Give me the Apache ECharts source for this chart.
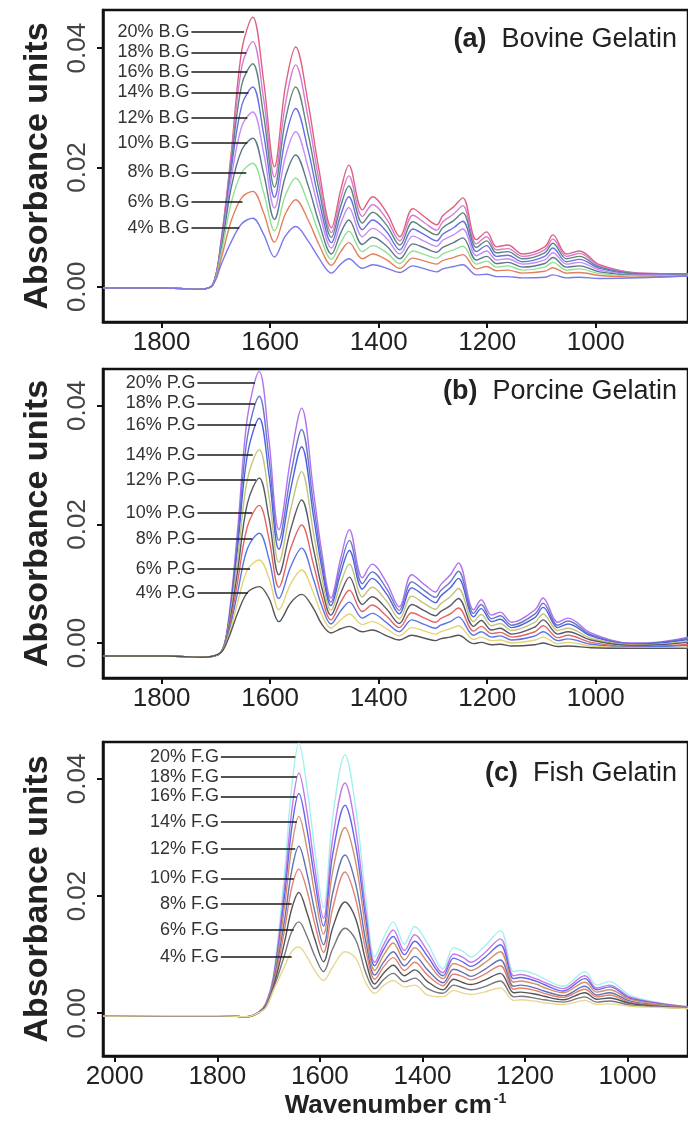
<!DOCTYPE html>
<html>
<head>
<meta charset="utf-8">
<script src="https://cdn.jsdelivr.net/npm/echarts@6/dist/echarts.min.js"></script>
<style>
html, body { margin: 0; padding: 0; background: #fff; }
#chart { width: 688px; height: 1127px; }
</style>
</head>
<body>
<div id="chart"></div>
<script>
const FONT = "'Liberation Sans', Arial, sans-serif";

// sample concentrations, top curve first
const concentrations = ['20%', '18%', '16%', '14%', '12%', '10%', '8%', '6%', '4%'];

// (a) Bovine gelatin: wavenumbers and absorbance rows (20% ... 4%) at each wavenumber
const bovineWn = [1908, 1790, 1730, 1706, 1690, 1672, 1652, 1632, 1612, 1592, 1572, 1553, 1530, 1510, 1487, 1470, 1455, 1430, 1411, 1385,
  1361, 1337, 1315, 1293, 1282, 1262, 1245, 1220, 1201, 1183, 1162, 1135, 1094, 1079, 1054, 1030, 993, 919, 830];
const bovineRows = [
  [-.0002, -.0002, -.0002, -.0002, -.0002, -.0002, -.0002, -.0002, -.0002],
  [-.0002, -.0002, -.0002, -.0002, -.0002, -.0002, -.0002, -.0002, -.0002],
  [-.0004, -.0004, -.0004, -.0004, -.0004, -.0004, -.0004, -.0004, -.0004],
  [.0003, .0003, .0003, .0003, .0003, .0003, .0003, .0003, .0003],
  [.0080, .0078, .0075, .0072, .0068, .0063, .0057, .0048, .0038],
  [.0222, .0215, .0205, .0195, .0180, .0165, .0140, .0110, .0075],
  [.0398, .0370, .0340, .0305, .0270, .0230, .0192, .0150, .0106],
  [.0452, .0411, .0374, .0335, .0293, .0249, .0207, .0160, .0115],
  [.0345, .0315, .0287, .0256, .0225, .0190, .0158, .0124, .0088],
  [.0201, .0184, .0167, .0150, .0132, .0113, .0094, .0075, .0050],
  [.0335, .0306, .0279, .0249, .0218, .0185, .0153, .0122, .0085],
  [.0402, .0372, .0335, .0299, .0260, .0221, .0182, .0146, .0101],
  [.0308, .0283, .0256, .0229, .0200, .0170, .0140, .0112, .0077],
  [.0196, .0179, .0163, .0145, .0128, .0108, .0090, .0071, .0048],
  [.0099, .0091, .0083, .0074, .0065, .0055, .0046, .0036, .0023],
  [.0162, .0148, .0135, .0120, .0106, .0090, .0074, .0059, .0038],
  [.0204, .0186, .0169, .0151, .0133, .0112, .0093, .0074, .0047],
  [.0129, .0118, .0107, .0096, .0084, .0071, .0059, .0047, .0031],
  [.0151, .0138, .0125, .0112, .0098, .0083, .0069, .0055, .0037],
  [.0124, .0113, .0103, .0092, .0081, .0068, .0057, .0045, .0031],
  [.0084, .0077, .0070, .0062, .0055, .0047, .0039, .0031, .0024],
  [.0131, .0120, .0109, .0097, .0085, .0072, .0060, .0048, .0035],
  [.0117, .0107, .0097, .0087, .0076, .0065, .0054, .0043, .0030],
  [.0104, .0095, .0087, .0077, .0068, .0058, .0048, .0038, .0025],
  [.0119, .0109, .0099, .0088, .0078, .0066, .0055, .0044, .0030],
  [.0134, .0122, .0111, .0099, .0087, .0074, .0062, .0049, .0034],
  [.0149, .0136, .0124, .0110, .0097, .0082, .0068, .0054, .0037],
  [.0079, .0072, .0066, .0059, .0052, .0045, .0038, .0030, .0020],
  [.0092, .0084, .0077, .0069, .0060, .0051, .0043, .0034, .0021],
  [.0067, .0062, .0057, .0051, .0045, .0039, .0033, .0027, .0017],
  [.0070, .0064, .0059, .0053, .0047, .0041, .0035, .0028, .0017],
  [.0055, .0051, .0047, .0042, .0038, .0033, .0028, .0023, .0015],
  [.0067, .0062, .0057, .0051, .0045, .0039, .0033, .0026, .0016],
  [.0087, .0080, .0073, .0065, .0057, .0049, .0041, .0032, .0020],
  [.0055, .0051, .0047, .0042, .0038, .0033, .0028, .0023, .0015],
  [.0060, .0056, .0051, .0046, .0041, .0035, .0030, .0024, .0016],
  [.0037, .0035, .0033, .0031, .0028, .0025, .0022, .0019, .0014],
  [.0023, .0023, .0022, .0021, .0020, .0019, .0018, .0016, .0015],
  [.0022, .0022, .0021, .0021, .0020, .0020, .0019, .0018, .0018]
];

// (b) Porcine gelatin
const porcineWn = [1908, 1790, 1725, 1692, 1678, 1660, 1642, 1620, 1602, 1584, 1562, 1542, 1520, 1505, 1488, 1470, 1454, 1430, 1412, 1385,
  1362, 1339, 1315, 1295, 1286, 1268, 1253, 1225, 1211, 1192, 1176, 1155, 1112, 1097, 1070, 1051, 1009, 936, 881, 830];
const porcineRows = [
  [-.0022, -.0022, -.0022, -.0022, -.0022, -.0022, -.0022, -.0022, -.0022],
  [-.0022, -.0022, -.0022, -.0022, -.0022, -.0022, -.0022, -.0022, -.0022],
  [-.0024, -.0024, -.0024, -.0024, -.0024, -.0024, -.0024, -.0024, -.0024],
  [-.0017, -.0017, -.0017, -.0017, -.0017, -.0017, -.0017, -.0017, -.0017],
  [.0030, .0027, .0025, .0021, .0018, .0014, .0011, .0008, .0005],
  [.0190, .0174, .0160, .0141, .0121, .0103, .0085, .0068, .0050],
  [.0380, .0347, .0317, .0276, .0235, .0196, .0159, .0123, .0085],
  [.0458, .0416, .0379, .0326, .0278, .0232, .0185, .0140, .0095],
  [.0340, .0310, .0283, .0246, .0210, .0175, .0141, .0109, .0075],
  [.0191, .0173, .0158, .0136, .0115, .0094, .0075, .0056, .0036],
  [.0312, .0284, .0260, .0226, .0192, .0160, .0129, .0100, .0068],
  [.0396, .0360, .0331, .0289, .0241, .0199, .0160, .0123, .0082],
  [.0255, .0233, .0213, .0185, .0158, .0132, .0107, .0084, .0058],
  [.0154, .0140, .0128, .0111, .0094, .0078, .0063, .0048, .0032],
  [.0076, .0069, .0063, .0055, .0047, .0039, .0032, .0025, .0017],
  [.0143, .0130, .0118, .0101, .0084, .0069, .0054, .0039, .0024],
  [.0191, .0173, .0156, .0133, .0111, .0089, .0069, .0049, .0028],
  [.0110, .0100, .0091, .0078, .0065, .0053, .0042, .0031, .0019],
  [.0133, .0120, .0109, .0094, .0078, .0064, .0050, .0036, .0022],
  [.0101, .0091, .0082, .0070, .0057, .0045, .0034, .0024, .0012],
  [.0061, .0055, .0049, .0041, .0033, .0026, .0019, .0012, .0005],
  [.0115, .0103, .0093, .0079, .0065, .0051, .0039, .0026, .0013],
  [.0098, .0088, .0079, .0066, .0054, .0042, .0031, .0020, .0008],
  [.0086, .0077, .0068, .0057, .0046, .0035, .0025, .0015, .0004],
  [.0098, .0088, .0079, .0066, .0053, .0041, .0030, .0019, .0007],
  [.0115, .0103, .0093, .0078, .0063, .0049, .0036, .0024, .0010],
  [.0135, .0121, .0109, .0092, .0075, .0059, .0044, .0029, .0013],
  [.0056, .0050, .0044, .0036, .0028, .0020, .0013, .0006, -.0001],
  [.0073, .0065, .0058, .0048, .0038, .0028, .0019, .0010, .0001],
  [.0047, .0041, .0036, .0029, .0022, .0016, .0010, .0004, -.0003],
  [.0052, .0046, .0040, .0033, .0025, .0018, .0012, .0005, -.0002],
  [.0035, .0030, .0026, .0021, .0015, .0010, .0005, .0000, -.0005],
  [.0056, .0049, .0043, .0035, .0027, .0019, .0012, .0005, -.0003],
  [.0076, .0067, .0060, .0049, .0039, .0029, .0019, .0010, .0000],
  [.0035, .0030, .0026, .0021, .0015, .0009, .0004, -.0001, -.0006],
  [.0042, .0037, .0032, .0025, .0019, .0013, .0007, .0001, -.0005],
  [.0017, .0014, .0012, .0008, .0005, .0001, -.0002, -.0005, -.0008],
  [.0000, -.0001, -.0002, -.0003, -.0004, -.0006, -.0007, -.0008, -.0009],
  [.0002, .0001, .0000, -.0002, -.0003, -.0005, -.0006, -.0008, -.0009],
  [.0010, .0008, .0006, .0003, .0001, -.0002, -.0004, -.0007, -.0009]
];

// (c) Fish gelatin
const fishWn = [2023, 1900, 1800, 1742, 1719, 1705, 1690, 1669, 1655, 1641, 1625, 1610, 1593, 1575, 1551, 1530, 1510, 1493, 1475, 1457,
  1435, 1415, 1390, 1360, 1339, 1320, 1306, 1280, 1248, 1222, 1209, 1176, 1163, 1125, 1083, 1060, 1035, 996, 944, 882];
const fishRows = [
  [-.0005, -.0005, -.0005, -.0005, -.0005, -.0005, -.0005, -.0005, -.0005],
  [-.0004, -.0004, -.0004, -.0004, -.0004, -.0004, -.0004, -.0004, -.0004],
  [-.0004, -.0004, -.0004, -.0004, -.0004, -.0004, -.0004, -.0004, -.0004],
  [-.0006, -.0006, -.0006, -.0006, -.0006, -.0006, -.0006, -.0006, -.0006],
  [.0002, .0002, .0002, .0002, .0002, .0001, .0001, .0001, .0001],
  [.0018, .0017, .0016, .0015, .0014, .0013, .0012, .0011, .0010],
  [.0068, .0064, .0061, .0058, .0054, .0051, .0047, .0043, .0040],
  [.0239, .0216, .0199, .0181, .0158, .0142, .0121, .0099, .0080],
  [.0385, .0344, .0315, .0283, .0243, .0214, .0178, .0139, .0105],
  [.0461, .0410, .0375, .0336, .0285, .0246, .0206, .0156, .0113],
  [.0385, .0343, .0313, .0280, .0238, .0209, .0171, .0131, .0096],
  [.0279, .0249, .0228, .0204, .0174, .0153, .0127, .0098, .0073],
  [.0180, .0162, .0149, .0135, .0117, .0104, .0088, .0071, .0056],
  [.0335, .0298, .0271, .0242, .0205, .0179, .0146, .0110, .0079],
  [.0441, .0393, .0355, .0317, .0270, .0241, .0190, .0145, .0105],
  [.0350, .0313, .0286, .0257, .0220, .0194, .0161, .0125, .0094],
  [.0193, .0172, .0158, .0141, .0121, .0106, .0088, .0068, .0051],
  [.0096, .0087, .0081, .0073, .0065, .0058, .0050, .0042, .0034],
  [.0130, .0118, .0110, .0100, .0088, .0080, .0069, .0058, .0048],
  [.0156, .0142, .0131, .0120, .0105, .0095, .0082, .0068, .0056],
  [.0118, .0107, .0100, .0091, .0081, .0073, .0064, .0054, .0045],
  [.0148, .0134, .0123, .0112, .0097, .0087, .0074, .0060, .0048],
  [.0119, .0106, .0097, .0087, .0074, .0065, .0054, .0042, .0031],
  [.0076, .0069, .0064, .0059, .0052, .0047, .0040, .0034, .0028],
  [.0112, .0101, .0094, .0085, .0075, .0067, .0058, .0048, .0039],
  [.0105, .0095, .0087, .0079, .0069, .0062, .0052, .0043, .0034],
  [.0096, .0087, .0080, .0073, .0063, .0057, .0049, .0040, .0032],
  [.0113, .0102, .0094, .0085, .0074, .0066, .0056, .0045, .0036],
  [.0141, .0127, .0117, .0105, .0091, .0081, .0068, .0055, .0043],
  [.0071, .0064, .0059, .0053, .0046, .0041, .0035, .0028, .0022],
  [.0073, .0066, .0061, .0055, .0048, .0043, .0036, .0029, .0023],
  [.0065, .0058, .0054, .0049, .0042, .0038, .0032, .0025, .0020],
  [.0059, .0053, .0049, .0044, .0038, .0034, .0029, .0023, .0018],
  [.0046, .0042, .0038, .0035, .0030, .0027, .0023, .0019, .0015],
  [.0071, .0064, .0059, .0053, .0046, .0041, .0035, .0028, .0022],
  [.0048, .0043, .0040, .0036, .0031, .0028, .0024, .0019, .0015],
  [.0054, .0048, .0045, .0040, .0035, .0031, .0026, .0021, .0016],
  [.0031, .0028, .0026, .0024, .0021, .0019, .0017, .0014, .0012],
  [.0019, .0018, .0017, .0016, .0014, .0014, .0012, .0011, .0010],
  [.0011, .0011, .0010, .0010, .0010, .0009, .0009, .0008, .0008]
];

// leader-line labels: height of each label, where its line starts and ends (wavenumber)
const bovineLabelY = [.0427, .0393, .0360, .0326, .0283, .0241, .0192, .0142, .0099];
const bovineLabelEnd = [1648, 1644, 1642, 1640, 1642, 1642, 1644, 1651, 1657];
const porcineLabelY = [.0439, .0404, .0368, .0317, .0275, .0219, .0176, .0125, .0084];
const porcineLabelEnd = [1628, 1628, 1626, 1632, 1626, 1633, 1633, 1637, 1641];
const fishLabelY = [.0438, .0403, .0370, .0327, .0281, .0230, .0187, .0142, .0096];
const fishLabelEnd = [1648, 1645, 1645, 1645, 1648, 1651, 1655, 1651, 1655];

// Theme colors per panel (20% ... 4%)
const bovineColors = ['#e0607e', '#d67ad6', '#5c8878', '#6a6ee6', '#c68ef0', '#5a7888', '#94e094', '#e2805e', '#7a78ea'];
const porcineColors = ['#b472f2', '#6878c4', '#5060e2', '#c4c47c', '#5a5a66', '#e26666', '#5a74e6', '#e6d474', '#555555'];
const fishColors = ['#a4f0f0', '#c47ae6', '#6464f0', '#d0906a', '#6272b4', '#e28272', '#555555', '#76767e', '#e8d894'];

const chart = echarts.init(document.getElementById('chart'));

const panels = [
  { top: 10, height: 312, xMin: 830, xMax: 1908, yMin: -0.0059, yMax: 0.0464, xTicks: [1000, 1200, 1400, 1600, 1800],
    wn: bovineWn, rows: bovineRows, colors: bovineColors, tag: 'B.G', labelY: bovineLabelY, labelStart: 1745, labelEnd: bovineLabelEnd,
    title: '{b|(a)}  Bovine Gelatin', titleTop: 26 },
  { top: 369, height: 309, xMin: 830, xMax: 1908, yMin: -0.0059, yMax: 0.0462, xTicks: [1000, 1200, 1400, 1600, 1800],
    wn: porcineWn, rows: porcineRows, colors: porcineColors, tag: 'P.G', labelY: porcineLabelY, labelStart: 1734, labelEnd: porcineLabelEnd,
    title: '{b|(b)}  Porcine Gelatin', titleTop: 378 },
  { top: 742, height: 314, xMin: 882, xMax: 2023, yMin: -0.0073, yMax: 0.0463, xTicks: [1000, 1200, 1400, 1600, 1800, 2000],
    wn: fishWn, rows: fishRows, colors: fishColors, tag: 'F.G', labelY: fishLabelY, labelStart: 1793, labelEnd: fishLabelEnd,
    title: '{b|(c)}  Fish Gelatin', titleTop: 760 }
];

const grids = [], xAxes = [], yAxes = [], titles = [], series = [];
const axisLineStyle = { color: '#111', width: 2.5 };

panels.forEach((p, gi) => {
  grids.push({
    left: 103, top: p.top, width: 589, height: p.height,
    show: true, borderColor: '#111', borderWidth: 2.5, backgroundColor: 'transparent'
  });
  xAxes.push({
    type: 'value', gridIndex: gi, inverse: true, min: p.xMin, max: p.xMax,
    axisLine: { show: true, onZero: false, lineStyle: axisLineStyle },
    axisTick: { show: true, inside: false, customValues: p.xTicks, length: 6, lineStyle: { color: '#111', width: 2 } },
    axisLabel: { customValues: p.xTicks, fontSize: 26, color: '#222', fontFamily: FONT, margin: 8, formatter: v => String(v) },
    splitLine: { show: false },
    name: gi === 2 ? 'Wavenumber cm{sup|-1}' : '',
    nameLocation: 'middle', nameGap: 36,
    nameTextStyle: {
      fontSize: 26, fontWeight: 'bold', color: '#222', fontFamily: FONT,
      rich: { sup: { fontSize: 14, fontWeight: 'bold', color: '#222', verticalAlign: 'top', padding: [0, 0, 14, 2] } }
    }
  });
  yAxes.push({
    type: 'value', gridIndex: gi, min: p.yMin, max: p.yMax,
    axisLine: { show: true, onZero: false, lineStyle: axisLineStyle },
    axisTick: { show: true, inside: false, customValues: [0, 0.02, 0.04], length: 6, lineStyle: { color: '#111', width: 2 } },
    axisLabel: {
      customValues: [0, 0.02, 0.04], rotate: 90, fontSize: 26, color: '#444', fontFamily: FONT, margin: 12,
      formatter: v => v.toFixed(2)
    },
    splitLine: { show: false },
    name: 'Absorbance units', nameLocation: 'middle', nameGap: 48,
    nameTextStyle: { fontSize: 34, fontWeight: 'bold', color: '#222', fontFamily: FONT }
  });
  titles.push({
    text: p.title, right: 11, top: p.titleTop, padding: 0,
    textStyle: {
      fontSize: 27, fontWeight: 'normal', color: '#222', fontFamily: FONT,
      rich: { b: { fontSize: 27, fontWeight: 'bold', color: '#222', fontFamily: FONT } }
    }
  });
  concentrations.forEach((c, k) => {
    const name = c + ' ' + p.tag;
    series.push({
      type: 'line', name: name, xAxisIndex: gi, yAxisIndex: gi,
      data: p.wn.map((w, i) => [w, p.rows[i][k]]),
      showSymbol: false, smooth: 0.35, silent: true,
      lineStyle: { color: p.colors[k], width: 1.4 },
      markLine: {
        silent: true, symbol: ['none', 'none'], animation: false,
        lineStyle: { color: '#1a1a1a', width: 1.6, type: 'solid' },
        label: { show: true, position: 'start', formatter: name, color: '#333', fontSize: 18, fontFamily: FONT, distance: 2 },
        emphasis: { disabled: true },
        data: [[{ coord: [p.labelStart, p.labelY[k]] }, { coord: [p.labelEnd[k], p.labelY[k]] }]]
      }
    });
  });
});

chart.setOption({
  animation: false,
  backgroundColor: '#fff',
  title: titles,
  grid: grids,
  xAxis: xAxes,
  yAxis: yAxes,
  series: series
});

window.addEventListener('resize', () => chart.resize());
</script>
</body>
</html>
